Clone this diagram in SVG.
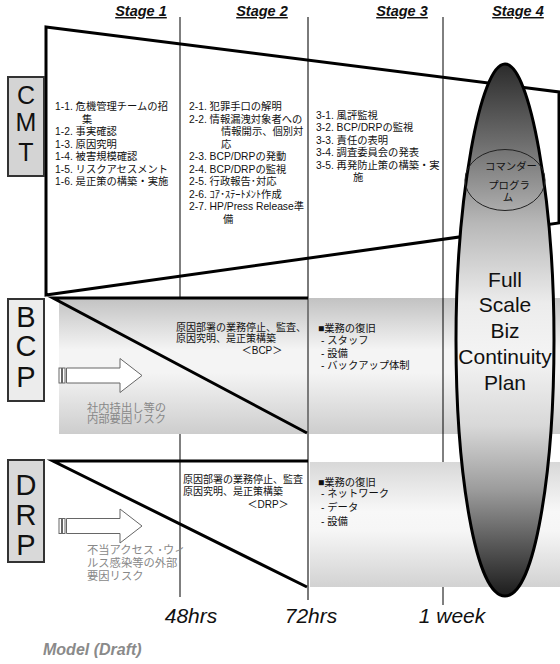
<svg xmlns="http://www.w3.org/2000/svg" width="560" height="664" viewBox="0 0 560 664">
<defs>
  <linearGradient id="gBcp" x1="0" y1="0" x2="0" y2="1">
    <stop offset="0" stop-color="#c2c2c2"/>
    <stop offset="0.38" stop-color="#f4f4f4"/>
    <stop offset="0.55" stop-color="#f4f4f4"/>
    <stop offset="1" stop-color="#cdcdcd"/>
  </linearGradient>
  <linearGradient id="gDrp" x1="0" y1="0" x2="0" y2="1">
    <stop offset="0" stop-color="#d8d8d8"/>
    <stop offset="0.4" stop-color="#f8f8f8"/>
    <stop offset="0.55" stop-color="#f6f6f6"/>
    <stop offset="1" stop-color="#d2d2d2"/>
  </linearGradient>
  <linearGradient id="gPlan" gradientUnits="userSpaceOnUse" x1="0" y1="64" x2="0" y2="596">
    <stop offset="0" stop-color="#2b2b2b"/>
    <stop offset="0.15" stop-color="#6e6e6e"/>
    <stop offset="0.3" stop-color="#b8b8b8"/>
    <stop offset="0.45" stop-color="#ececec"/>
    <stop offset="0.55" stop-color="#f4f4f4"/>
    <stop offset="0.68" stop-color="#d8d8d8"/>
    <stop offset="0.8" stop-color="#9c9c9c"/>
    <stop offset="0.9" stop-color="#5a5a5a"/>
    <stop offset="1" stop-color="#1c1c1c"/>
  </linearGradient>
  <g id="stripeArrow" fill="#fff" stroke="#666" stroke-width="1">
    <rect x="0" y="-7.5" width="2.5" height="15"/>
    <rect x="3.5" y="-7.5" width="2.5" height="15"/>
    <path d="M7.5,-7.5 H61 V-17 L83,0 L61,17 V7.5 H7.5 Z"/>
  </g>
</defs>
<style>
  text { font-family: "Liberation Sans", "Noto Sans CJK JP", sans-serif; }
  .jp { font-size: 10.3px; fill: #111; }
  .stage { font-weight: bold; font-style: italic; font-size: 14.5px; text-decoration: underline; text-anchor: middle; fill: #111; }
  .cap25 { font-size: 25px; text-anchor: middle; fill: #111; }
  .cap29 { font-size: 29px; text-anchor: middle; fill: #111; }
  .time { font-style: italic; font-size: 21px; text-anchor: middle; fill: #111; }
  .risk { font-size: 11.3px; fill: #888; }
  .plan { font-size: 21px; text-anchor: middle; fill: #111; }
  .box { stroke: #333; stroke-width: 2; }
  .thick { fill: none; stroke: #000; stroke-width: 3; stroke-linejoin: miter; stroke-miterlimit: 12; }
  .thin { stroke: #000; stroke-width: 1; }
</style>

<g id="stage-labels">
  <text class="stage" x="141" y="16">Stage 1</text>
  <text class="stage" x="262" y="16">Stage 2</text>
  <text class="stage" x="402" y="16">Stage 3</text>
  <text class="stage" x="518" y="16">Stage 4</text>
</g>

<g id="connectors">
  <line class="thin" x1="180" y1="17" x2="180" y2="597"/>
</g>

<g id="bcp-band">
  <rect x="59" y="298" width="501" height="136" fill="url(#gBcp)"/>
</g>

<g id="grid-lines">
  <line class="thin" x1="443" y1="17" x2="443" y2="605"/>
</g>

<g id="drp-band">
  <rect x="310" y="462" width="250" height="125" fill="url(#gDrp)"/>
</g>

<g id="divider-72">
  <line x1="308" y1="17" x2="308" y2="600" stroke="#7a7a7a" stroke-width="2"/>
</g>

<g id="cmt-panel">
  <path class="thick" d="M46,27 L559,92 L559,223 L46,295 Z"/>
  <g class="jp">
    <text x="55" y="110.2">1-1. 危機管理チームの招</text>
    <text x="82" y="122.7">集</text>
    <text x="55" y="135.2">1-2. 事実確認</text>
    <text x="55" y="147.7">1-3. 原因究明</text>
    <text x="55" y="160.2">1-4. 被害規模確認</text>
    <text x="55" y="172.7">1-5. リスクアセスメント</text>
    <text x="55" y="185.2">1-6. 是正策の構築・実施</text>

    <text x="189" y="110.2">2-1. 犯罪手口の解明</text>
    <text x="189" y="122.7">2-2. 情報漏洩対象者への</text>
    <text x="221" y="135.2">情報開示、個別対</text>
    <text x="221" y="147.7">応</text>
    <text x="189" y="160.2">2-3. BCP/DRPの発動</text>
    <text x="189" y="172.7">2-4. BCP/DRPの監視</text>
    <text x="189" y="185.2">2-5. 行政報告･対応</text>
    <text x="189" y="197.7">2-6. ｺｱ･ｽﾃｰﾄﾒﾝﾄ作成</text>
    <text x="189" y="210.2">2-7. HP/Press Release準</text>
    <text x="223" y="222.7">備</text>

    <text x="316" y="118.7">3-1. 風評監視</text>
    <text x="316" y="131.2">3-2. BCP/DRPの監視</text>
    <text x="316" y="143.7">3-3. 責任の表明</text>
    <text x="316" y="156.2">3-4. 調査委員会の発表</text>
    <text x="316" y="168.7">3-5. 再発防止策の構築・実</text>
    <text x="353" y="181.2">施</text>
  </g>
</g>

<g id="bcp-panel">
  <path class="thick" d="M308,298 L53,298 L307,433"/>
  <use href="#stripeArrow" x="59" y="375.5"/>
  <g class="jp" style="font-size:10px">
    <text x="176" y="330.5">原因部署の業務停止、監査、</text>
    <text x="176" y="342.2">原因究明、是正策構築</text>
    <text x="262" y="353.9" text-anchor="middle">＜BCP＞</text>
  </g>
  <g class="jp">
    <text x="318" y="331.7">■業務の復旧</text>
    <text x="321" y="343.7">- スタッフ</text>
    <text x="321" y="356.5">- 設備</text>
    <text x="321" y="368.7">- バックアップ体制</text>
  </g>
  <text class="risk" x="87" y="411.5">社内持出し等の</text>
  <text class="risk" x="87" y="422.5">内部要因リスク</text>
</g>

<g id="drp-panel">
  <path class="thick" d="M308,461 L53,461 L307,587"/>
  <use href="#stripeArrow" x="59" y="526"/>
  <g class="jp" style="font-size:10px">
    <text x="183" y="482.7">原因部署の業務停止、監査</text>
    <text x="183" y="494.7">原因究明、是正策構築</text>
    <text x="268" y="507.5" text-anchor="middle">＜DRP＞</text>
  </g>
  <g class="jp">
    <text x="318" y="485.5">■業務の復旧</text>
    <text x="321" y="497">- ネットワーク</text>
    <text x="321" y="510.5">- データ</text>
    <text x="321" y="524.5">- 設備</text>
  </g>
  <text class="risk" x="87" y="554">不当アクセス ･ウィ</text>
  <text class="risk" x="87" y="567">ルス感染等の外部</text>
  <text class="risk" x="87" y="580">要因リスク</text>
</g>

<g id="cmt-label">
  <rect class="box" x="8" y="77" width="36" height="99" fill="#d4d4d4"/>
  <text class="cap25" x="26" y="104">C</text>
  <text class="cap25" x="26" y="131">M</text>
  <text class="cap25" x="26" y="161">T</text>
</g>

<g id="bcp-label">
  <rect class="box" x="8" y="299" width="36" height="102" fill="#ececec"/>
  <text class="cap29" x="26" y="327">B</text>
  <text class="cap29" x="26" y="356">C</text>
  <text class="cap29" x="26" y="387">P</text>
</g>

<g id="drp-label">
  <rect class="box" x="8" y="460" width="36" height="102" fill="#d9d9d9"/>
  <text class="cap29" x="26" y="495">D</text>
  <text class="cap29" x="26" y="525">R</text>
  <text class="cap29" x="26" y="555">P</text>
</g>

<g id="full-plan">
  <path d="M505,64 C530,64 554,200 554,340 C554,470 535,596 505,596 C475,596 456,470 456,340 C456,200 480,64 505,64 Z" fill="url(#gPlan)" stroke="#000" stroke-width="3"/>
  <text class="plan" x="505" y="287">Full</text>
  <text class="plan" x="505" y="312">Scale</text>
  <text class="plan" x="505" y="338">Biz</text>
  <text class="plan" x="505" y="364">Continuity</text>
  <text class="plan" x="505" y="390">Plan</text>
</g>

<g id="commander">
  <ellipse cx="505" cy="180" rx="40" ry="30.5" fill="none" stroke="#222" stroke-width="1"/>
  <g class="jp" style="font-size:10.4px" text-anchor="middle">
    <text x="511" y="169.5">コマンダー</text>
    <text x="509" y="189">プログラ</text>
    <text x="508" y="201">ム</text>
  </g>
</g>

<g id="time-labels">
  <text class="time" x="191" y="623">48hrs</text>
  <text class="time" x="311" y="623">72hrs</text>
  <text class="time" x="452" y="623">1 week</text>
</g>

<text x="43" y="655" font-weight="bold" font-style="italic" font-size="16" fill="#8a8a8a">Model (Draft)</text>
</svg>
